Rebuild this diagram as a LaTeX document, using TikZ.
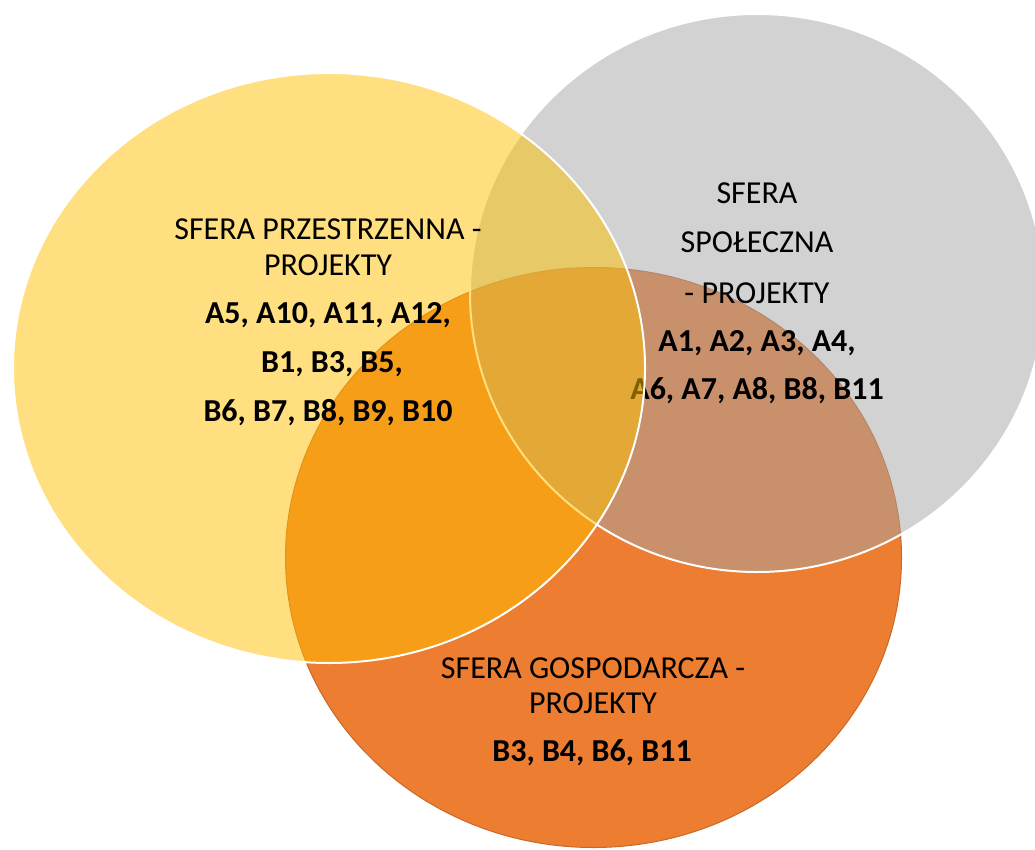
\documentclass[tikz,border=0pt]{standalone}
\usepackage{fontspec}
\setmainfont{Carlito}
\definecolor{przes}{HTML}{FFC000}
\definecolor{spol}{HTML}{A5A5A5}
\definecolor{gosp}{HTML}{ED7D31}
\definecolor{gospbrzeg}{HTML}{C8692A}
\tikzset{
  sfera/.style={draw=white, line width=2pt, fill opacity=.5},
  tytul/.style={anchor=base, inner sep=0pt, font=\fontsize{32}{38}\selectfont},
  lista/.style={tytul, font=\fontsize{32}{38}\selectfont\bfseries}
}
\begin{document}
\begin{tikzpicture}[x=1pt, y=-1pt]
      \useasboundingbox (0,0) rectangle (1035,850);
      \filldraw [fill=gosp, draw=gospbrzeg, line width=1pt] (593.5,557.5) ellipse [x radius=308pt, y radius=290pt];
      \filldraw [sfera, fill=spol] (757,293) ellipse [x radius=287pt, y radius=279pt];
      \node [tytul] (s1) at (757,204) {SFERA};
      \node [tytul] (s2) at (757,252) {SPOŁECZNA};
      \node [tytul] (s3) at (757,303) {- PROJEKTY};
      \node [lista] (s4) at (757,351) {A1, A2, A3, A4,};
      \node [lista] (s5) at (757,399) {A6, A7, A8, B8, B11};
      \filldraw [sfera, fill=przes] (329,368) ellipse [x radius=316pt, y radius=295pt];
      \node [tytul] (p1) at (328,240) {SFERA PRZESTRZENNA -};
      \node [tytul] (p2) at (328,275) {PROJEKTY};
      \node [lista] (p3) at (328,323) {A5, A10, A11, A12,};
      \node [lista] (p4) at (332,372) {B1, B3, B5,};
      \node [lista] (p5) at (328,421) {B6, B7, B8, B9, B10};
      \node [tytul] (g1) at (593,678) {SFERA GOSPODARCZA -};
      \node [tytul] (g2) at (593,713) {PROJEKTY};
      \node [lista] (g3) at (592,761) {B3, B4, B6, B11};
    \end{tikzpicture}
\end{document}
